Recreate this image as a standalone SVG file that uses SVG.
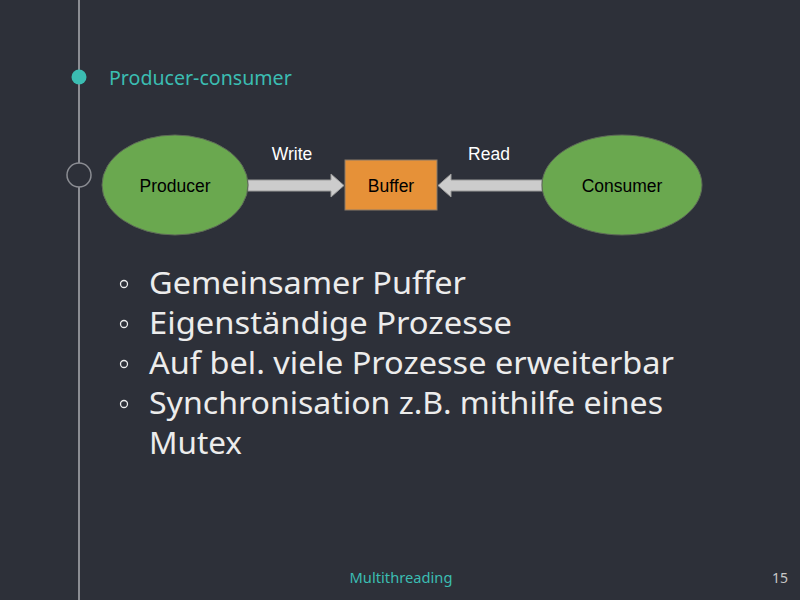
<svg xmlns="http://www.w3.org/2000/svg" width="800" height="600" viewBox="0 0 800 600">
<style>
.bg{fill:#2d3039}
.node-ell{fill:#6aa84f;stroke:#5e6b58;stroke-width:1}
.node-rect{fill:#e69138;stroke:#8a7a6a;stroke-width:1}
.lbl{font-family:"Liberation Sans",Arial,sans-serif;font-size:17.5px;fill:#000;text-anchor:middle}
.elbl{font-family:"Liberation Sans",Arial,sans-serif;font-size:17.5px;fill:#ffffff;text-anchor:middle}
.arrow{fill:#cccccc;stroke:#9a9a9a;stroke-width:1}
.bullet{font-family:"Noto Sans",sans-serif;font-size:30px;fill:#ececec}
.teal{fill:#3bbdb2}
</style>
<rect class="bg" x="0" y="0" width="800" height="600"/>
<g id="timeline">
<line x1="79" y1="0" x2="79" y2="600" stroke="#8b8d93" stroke-width="2"/>
<circle cx="79" cy="77" r="7.5" class="teal"/>
<circle cx="79" cy="175" r="12" fill="#2d3039" stroke="#8b8d93" stroke-width="1.5"/>
</g>
<text x="109" y="85" font-family="Noto Sans, sans-serif" font-size="19.6" class="teal">Producer-consumer</text>
<g id="connectors">
<polygon class="arrow" points="248,180 331,180 331,174 344,185.5 331,197 331,191 248,191"/>
<text class="elbl" x="292" y="160">Write</text>
<polygon class="arrow" points="542,180 451,180 451,174 438,185.5 451,197 451,191 542,191"/>
<text class="elbl" x="489" y="160">Read</text>
</g>
<g id="producer">
<ellipse class="node-ell" cx="175" cy="185" rx="73" ry="50"/>
<text class="lbl" x="175" y="192">Producer</text>
</g>
<g id="buffer">
<rect class="node-rect" x="345" y="160" width="92" height="50"/>
<text class="lbl" x="391" y="192">Buffer</text>
</g>
<g id="consumer">
<ellipse class="node-ell" cx="622" cy="185" rx="80" ry="50"/>
<text class="lbl" x="622" y="192">Consumer</text>
</g>
<g id="bullets">
<circle cx="124" cy="284" r="3.5" fill="none" stroke="#ececec" stroke-width="1.3"/>
<circle cx="124" cy="324" r="3.5" fill="none" stroke="#ececec" stroke-width="1.3"/>
<circle cx="124" cy="364" r="3.5" fill="none" stroke="#ececec" stroke-width="1.3"/>
<circle cx="124" cy="404" r="3.5" fill="none" stroke="#ececec" stroke-width="1.3"/>
<text class="bullet" x="149" y="294" textLength="317" lengthAdjust="spacingAndGlyphs">Gemeinsamer Puffer</text>
<text class="bullet" x="149" y="334" textLength="363" lengthAdjust="spacingAndGlyphs">Eigenständige Prozesse</text>
<text class="bullet" x="149" y="374" textLength="525" lengthAdjust="spacingAndGlyphs">Auf bel. viele Prozesse erweiterbar</text>
<text class="bullet" x="149" y="414" textLength="514" lengthAdjust="spacingAndGlyphs">Synchronisation z.B. mithilfe eines</text>
<text class="bullet" x="149" y="454" textLength="93" lengthAdjust="spacingAndGlyphs">Mutex</text>
</g>
<text x="401" y="583" font-family="Noto Sans, sans-serif" font-size="14.7" class="teal" text-anchor="middle">Multithreading</text>
<text x="788" y="583" font-family="Noto Sans, sans-serif" font-size="14" fill="#c8c8c8" text-anchor="end">15</text>
</svg>
